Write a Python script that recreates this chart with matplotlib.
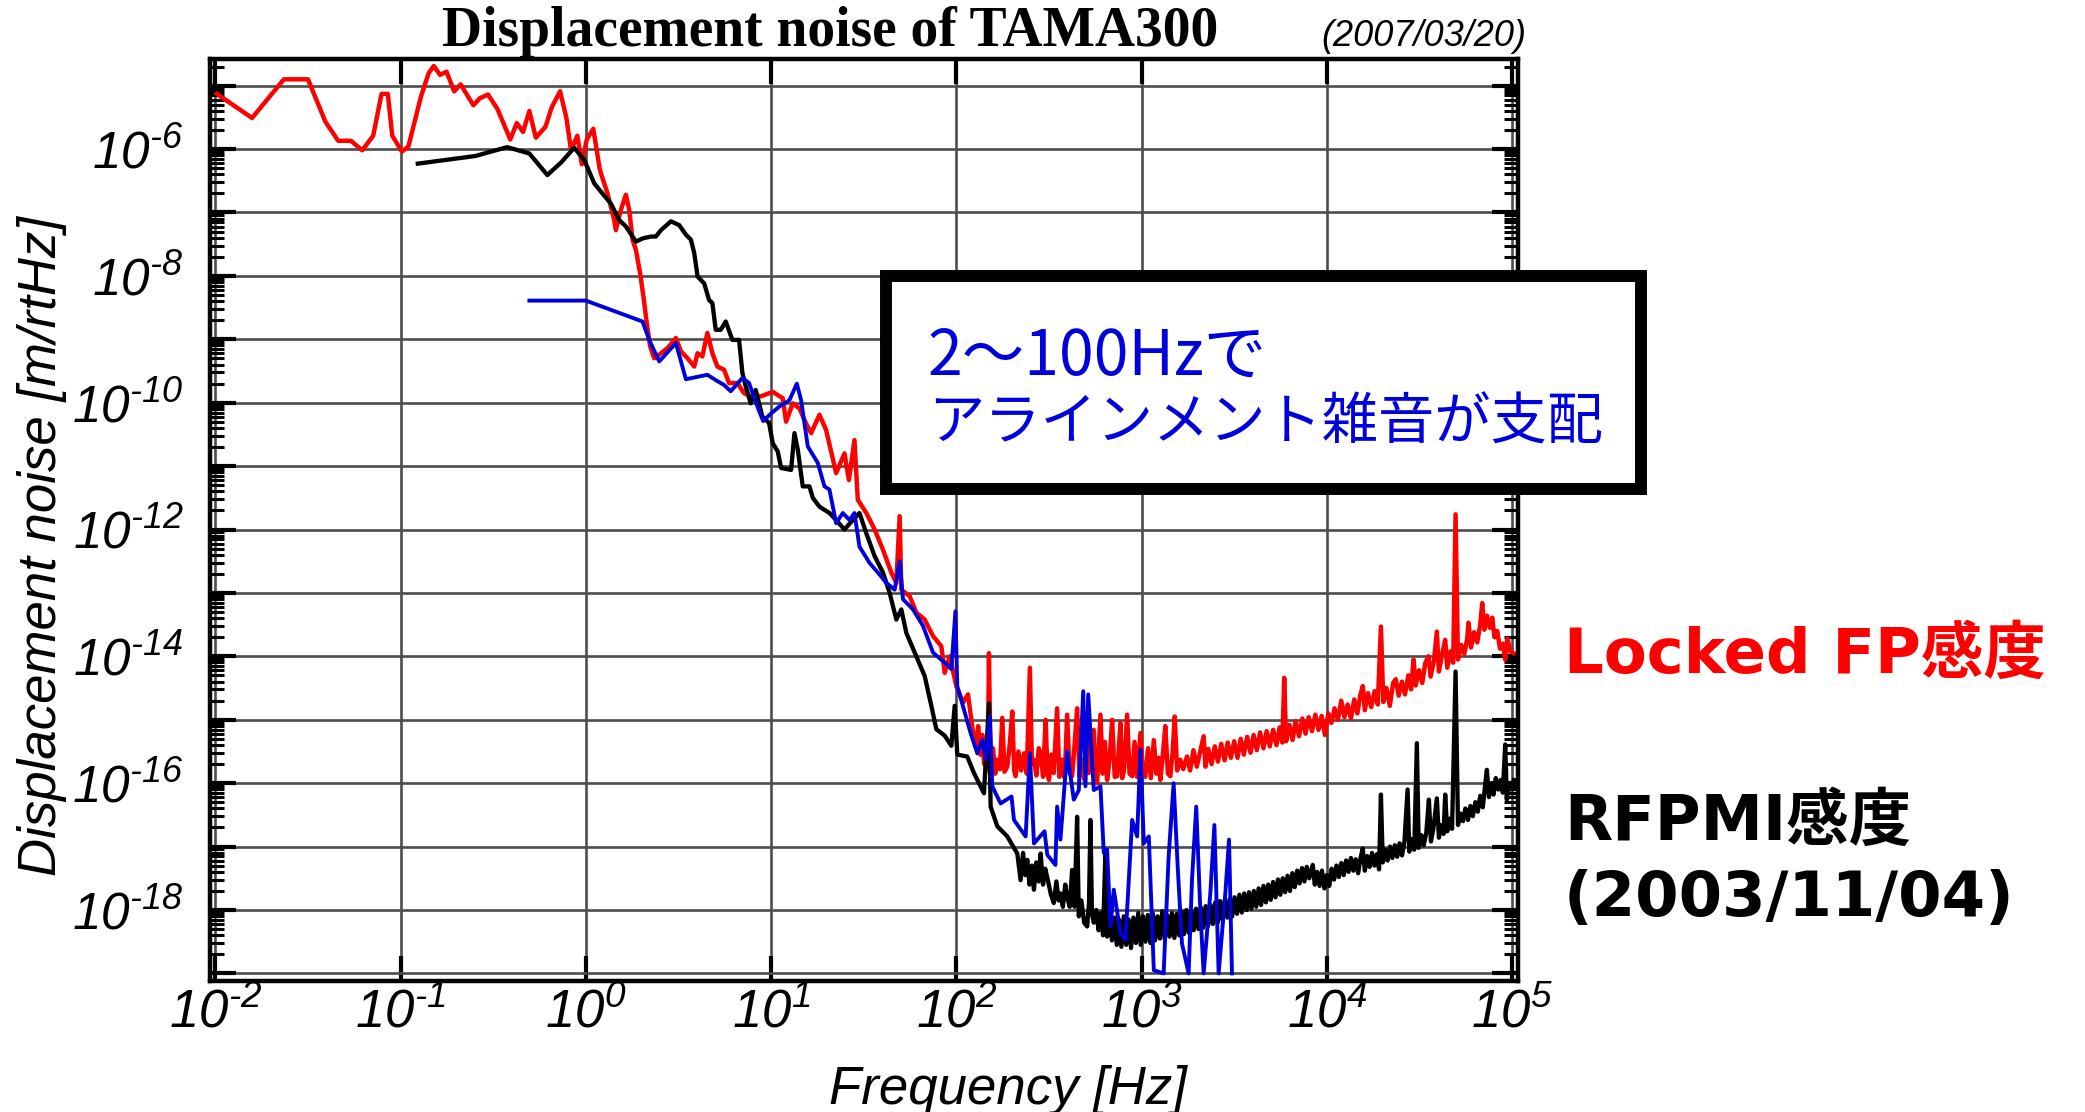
import numpy as np
import matplotlib
matplotlib.use('Agg')
import matplotlib.pyplot as plt
from matplotlib.ticker import FixedLocator, NullLocator, FuncFormatter
from matplotlib.patches import Rectangle

# points as (log10 f [Hz], log10 noise [m/rtHz])
red_pts = [
    (-1.992, -5.13), (-1.802, -5.51), (-1.63, -4.90), (-1.50, -4.90), (-1.406, -5.57),
    (-1.337, -5.87), (-1.268, -5.87), (-1.207, -6.02), (-1.148, -5.79), (-1.103, -5.13),
    (-1.069, -5.13), (-1.045, -5.79), (-0.993, -6.04), (-0.958, -5.96), (-0.89, -5.17),
    (-0.848, -4.80), (-0.821, -4.69), (-0.787, -4.83), (-0.752, -4.78), (-0.711, -5.09),
    (-0.676, -4.98), (-0.607, -5.31), (-0.573, -5.20), (-0.528, -5.14), (-0.477, -5.37),
    (-0.408, -5.85), (-0.373, -5.59), (-0.339, -5.73), (-0.305, -5.40), (-0.27, -5.82),
    (-0.218, -5.65), (-0.184, -5.34), (-0.139, -5.09), (-0.105, -5.51), (-0.08, -6.02),
    (-0.046, -5.79), (-0.022, -6.24), (0.005, -5.85), (0.04, -5.68), (0.074, -6.30),
    (0.081, -6.38), (0.117, -6.70), (0.153, -7.12), (0.162, -7.28), (0.189, -6.96),
    (0.216, -6.72), (0.234, -6.96), (0.252, -7.43), (0.27, -7.59), (0.293, -7.96),
    (0.311, -8.33), (0.329, -8.75), (0.347, -9.11), (0.369, -9.30), (0.405, -9.22),
    (0.441, -9.14), (0.486, -8.98), (0.513, -9.19), (0.549, -9.30), (0.585, -9.43),
    (0.603, -9.22), (0.629, -9.27), (0.656, -8.90), (0.683, -9.22), (0.71, -9.43),
    (0.746, -9.48), (0.773, -9.69), (0.818, -9.69), (0.854, -9.85), (0.89, -9.90),
    (0.944, -9.90), (1.009, -9.83), (1.063, -9.93), (1.081, -10.30), (1.117, -10.01),
    (1.153, -10.09), (1.189, -10.33), (1.216, -10.48), (1.261, -10.19), (1.297, -10.43),
    (1.351, -11.11), (1.396, -10.80), (1.42, -11.22), (1.45, -10.59), (1.468, -11.53),
    (1.514, -11.74), (1.559, -12.00), (1.604, -12.32), (1.649, -12.68), (1.676, -12.84),
    (1.694, -11.79), (1.703, -12.95), (1.748, -13.05), (1.784, -13.31), (1.829, -13.42),
    (1.874, -13.68), (1.919, -13.84), (1.937, -14.26), (1.964, -14.00), (2.0, -14.47),
    (2.036, -14.73), (2.063, -14.60), (2.090, -15.20), (2.104, -15.42), (2.118, -15.10),
    (2.130, -15.55), (2.140, -15.24), (2.150, -15.70), (2.158, -15.63), (2.170, -15.80),
    (2.176, -13.95), (2.185, -15.74), (2.198, -15.45), (2.210, -15.85), (2.221, -15.63),
    (2.235, -15.78), (2.248, -14.97), (2.260, -15.82), (2.275, -15.74), (2.288, -15.40),
    (2.302, -14.87), (2.312, -15.80), (2.320, -15.89), (2.335, -15.50), (2.350, -15.80),
    (2.365, -15.53), (2.380, -15.85), (2.397, -14.18), (2.408, -15.70), (2.419, -15.63),
    (2.432, -15.88), (2.445, -15.45), (2.455, -15.53), (2.468, -15.90), (2.482, -15.00),
    (2.492, -15.85), (2.500, -15.95), (2.513, -15.55), (2.526, -15.84), (2.544, -14.82),
    (2.556, -15.90), (2.571, -15.63), (2.585, -15.92), (2.598, -14.92), (2.612, -15.85),
    (2.625, -15.89), (2.638, -15.40), (2.652, -14.82), (2.665, -15.90), (2.679, -15.63),
    (2.692, -15.95), (2.705, -15.20), (2.715, -15.84), (2.728, -15.50), (2.742, -15.16),
    (2.752, -15.95), (2.760, -16.00), (2.770, -15.40), (2.778, -14.92), (2.790, -15.85),
    (2.802, -15.35), (2.814, -15.95), (2.828, -15.60), (2.841, -15.00), (2.855, -15.90),
    (2.868, -15.89), (2.878, -15.40), (2.886, -15.05), (2.895, -15.92), (2.905, -15.80),
    (2.922, -14.92), (2.935, -15.85), (2.949, -15.89), (2.962, -15.35), (2.975, -15.90),
    (2.994, -15.21), (3.008, -15.88), (3.020, -15.90), (3.035, -15.45), (3.050, -15.92),
    (3.066, -15.32), (3.080, -15.85), (3.092, -15.60), (3.101, -15.95), (3.115, -15.55),
    (3.128, -15.10), (3.142, -15.85), (3.155, -15.89), (3.168, -15.50), (3.179, -14.95),
    (3.192, -15.80), (3.209, -15.63), (3.225, -15.78), (3.245, -15.58), (3.262, -15.80),
    (3.280, -15.48), (3.298, -15.74), (3.315, -15.52), (3.335, -15.26), (3.345, -15.74),
    (3.360, -15.46), (3.378, -15.70), (3.395, -15.42), (3.412, -15.66), (3.430, -15.38),
    (3.448, -15.64), (3.465, -15.36), (3.482, -15.60), (3.500, -15.34), (3.518, -15.60),
    (3.535, -15.30), (3.552, -15.55), (3.570, -15.27), (3.588, -15.52), (3.605, -15.24),
    (3.622, -15.48), (3.640, -15.20), (3.658, -15.45), (3.675, -15.18), (3.692, -15.42),
    (3.710, -15.16), (3.728, -15.40), (3.745, -15.12), (3.760, -15.36), (3.770, -14.34),
    (3.780, -15.34), (3.798, -15.08), (3.815, -15.32), (3.832, -15.02), (3.850, -15.26),
    (3.868, -14.98), (3.885, -15.22), (3.902, -14.96), (3.920, -15.18), (3.938, -14.92),
    (3.955, -15.16), (3.972, -14.94), (3.990, -15.24), (4.008, -14.90), (4.025, -15.05),
    (4.042, -14.82), (4.060, -15.00), (4.078, -14.70), (4.095, -14.96), (4.112, -14.76),
    (4.130, -14.98), (4.148, -14.68), (4.165, -14.90), (4.180, -14.62), (4.194, -14.47),
    (4.205, -14.85), (4.222, -14.58), (4.240, -14.80), (4.258, -14.55), (4.275, -14.76),
    (4.292, -13.53), (4.305, -14.72), (4.322, -14.50), (4.340, -14.78), (4.358, -14.42),
    (4.372, -14.36), (4.388, -14.62), (4.405, -14.40), (4.422, -14.60), (4.440, -14.30),
    (4.455, -14.52), (4.468, -14.05), (4.480, -14.46), (4.498, -14.22), (4.515, -14.42),
    (4.532, -14.10), (4.549, -14.00), (4.560, -14.32), (4.578, -14.08), (4.594, -13.61),
    (4.605, -14.24), (4.622, -13.98), (4.639, -13.74), (4.650, -14.18), (4.668, -13.92),
    (4.682, -14.10), (4.695, -11.76), (4.708, -14.05), (4.725, -13.82), (4.742, -13.96),
    (4.758, -13.72), (4.765, -13.47), (4.778, -13.86), (4.795, -13.62), (4.812, -13.78),
    (4.828, -13.50), (4.839, -13.16), (4.850, -13.58), (4.865, -13.36), (4.880, -13.55),
    (4.893, -13.39), (4.905, -13.70), (4.920, -13.60), (4.935, -13.88), (4.950, -13.80),
    (4.963, -14.05), (4.975, -13.72), (4.990, -13.92), (5.008, -13.95),
]

black_pts = [
    (-0.907, -6.23), (-0.752, -6.17), (-0.597, -6.11), (-0.425, -5.97), (-0.305, -6.07),
    (-0.208, -6.41), (-0.133, -6.21), (-0.063, -5.98), (-0.009, -6.17), (0.045, -6.54),
    (0.081, -6.67), (0.135, -6.86), (0.18, -7.12), (0.216, -7.22), (0.27, -7.46),
    (0.306, -7.41), (0.351, -7.38), (0.378, -7.38), (0.405, -7.28), (0.459, -7.14),
    (0.504, -7.20), (0.54, -7.35), (0.567, -7.43), (0.585, -7.64), (0.603, -8.01),
    (0.639, -8.12), (0.665, -8.38), (0.683, -8.43), (0.701, -8.85), (0.728, -8.85),
    (0.755, -8.72), (0.791, -9.01), (0.827, -9.01), (0.845, -9.53), (0.863, -9.74),
    (0.89, -10.01), (0.917, -9.80), (0.953, -10.22), (0.989, -10.32), (1.009, -10.64),
    (1.036, -10.77), (1.054, -11.03), (1.108, -11.06), (1.126, -10.48), (1.144, -10.74),
    (1.171, -11.32), (1.207, -11.32), (1.225, -11.50), (1.261, -11.64), (1.315, -11.74),
    (1.351, -11.85), (1.396, -12.00), (1.441, -11.85), (1.477, -11.74), (1.514, -12.06),
    (1.559, -12.42), (1.604, -12.68), (1.64, -13.00), (1.676, -13.42), (1.703, -13.26),
    (1.73, -13.63), (1.784, -14.00), (1.829, -14.31), (1.865, -14.78), (1.892, -15.15),
    (1.937, -15.25), (1.973, -15.41), (1.991, -14.78), (2.005, -15.55), (2.059, -15.58),
    (2.095, -15.84), (2.149, -16.16), (2.176, -14.74), (2.185, -16.37), (2.221, -16.68),
    (2.275, -16.84), (2.329, -17.11), (2.347, -17.53), (2.360, -17.10), (2.372, -17.45),
    (2.383, -17.21), (2.395, -17.60), (2.408, -17.30), (2.419, -17.68), (2.432, -17.25),
    (2.445, -17.55), (2.455, -17.11), (2.468, -17.60), (2.480, -17.35), (2.494, -17.53),
    (2.510, -17.75), (2.526, -17.89), (2.540, -17.55), (2.552, -17.85), (2.562, -17.74),
    (2.575, -17.95), (2.588, -17.60), (2.598, -17.79), (2.612, -17.95), (2.625, -17.37),
    (2.638, -17.95), (2.652, -16.53), (2.661, -18.10), (2.675, -17.85), (2.690, -18.20),
    (2.706, -18.26), (2.716, -17.90), (2.724, -16.58), (2.732, -18.05), (2.742, -18.20),
    (2.755, -18.00), (2.768, -18.32), (2.780, -18.05), (2.792, -18.40), (2.805, -17.05),
    (2.814, -18.42), (2.828, -18.10), (2.840, -18.48), (2.853, -18.12), (2.866, -18.55),
    (2.878, -18.15), (2.891, -18.58), (2.904, -18.10), (2.917, -18.55), (2.930, -18.15),
    (2.943, -18.60), (2.956, -18.12), (2.969, -18.52), (2.982, -18.05), (2.995, -18.55),
    (3.008, -18.10), (3.021, -18.50), (3.034, -18.08), (3.047, -18.52), (3.060, -18.05),
    (3.073, -18.48), (3.086, -18.10), (3.099, -18.45), (3.112, -18.02), (3.125, -18.46),
    (3.138, -18.08), (3.151, -18.42), (3.164, -18.05), (3.177, -18.44), (3.190, -18.06),
    (3.203, -18.40), (3.216, -18.02), (3.229, -18.38), (3.242, -18.00), (3.255, -18.36),
    (3.268, -18.02), (3.281, -18.32), (3.294, -17.98), (3.307, -18.30), (3.320, -17.96),
    (3.333, -18.28), (3.346, -17.94), (3.359, -18.25), (3.372, -17.92), (3.385, -18.22),
    (3.398, -17.88), (3.411, -18.20), (3.424, -17.86), (3.437, -18.16), (3.450, -17.84),
    (3.463, -18.12), (3.476, -17.82), (3.489, -18.10), (3.502, -17.80), (3.515, -18.06),
    (3.528, -17.76), (3.541, -18.04), (3.554, -17.74), (3.567, -18.00), (3.580, -17.72),
    (3.593, -17.98), (3.606, -17.70), (3.619, -17.95), (3.632, -17.66), (3.645, -17.92),
    (3.658, -17.62), (3.671, -17.88), (3.684, -17.60), (3.697, -17.84), (3.710, -17.56),
    (3.723, -17.80), (3.736, -17.52), (3.749, -17.76), (3.762, -17.50), (3.775, -17.72),
    (3.788, -17.46), (3.801, -17.70), (3.814, -17.42), (3.827, -17.64), (3.840, -17.38),
    (3.853, -17.58), (3.866, -17.34), (3.879, -17.55), (3.892, -17.32), (3.905, -17.50),
    (3.924, -17.29), (3.935, -17.60), (3.948, -17.40), (3.961, -17.62), (3.974, -17.38),
    (3.987, -17.66), (4.000, -17.45), (4.013, -17.62), (4.026, -17.35), (4.039, -17.52),
    (4.052, -17.30), (4.065, -17.48), (4.078, -17.26), (4.091, -17.45), (4.104, -17.22),
    (4.117, -17.40), (4.130, -17.18), (4.143, -17.38), (4.156, -17.20), (4.169, -17.42),
    (4.182, -17.18), (4.194, -17.03), (4.205, -17.38), (4.218, -17.15), (4.231, -17.32),
    (4.244, -17.10), (4.257, -17.30), (4.270, -17.12), (4.282, -17.36), (4.292, -16.18),
    (4.302, -17.25), (4.315, -17.05), (4.328, -17.22), (4.341, -17.00), (4.354, -17.18),
    (4.367, -16.98), (4.380, -17.16), (4.393, -16.95), (4.406, -17.14), (4.419, -16.92),
    (4.436, -16.10), (4.445, -17.08), (4.458, -16.88), (4.472, -17.05), (4.486, -15.37),
    (4.496, -17.02), (4.510, -16.82), (4.523, -16.98), (4.537, -16.78), (4.551, -16.26),
    (4.562, -16.92), (4.575, -16.72), (4.594, -16.24), (4.605, -16.86), (4.618, -16.66),
    (4.630, -16.80), (4.639, -16.18), (4.650, -16.76), (4.663, -16.56), (4.676, -16.72),
    (4.695, -14.24), (4.708, -16.66), (4.722, -16.48), (4.735, -16.60), (4.748, -16.40),
    (4.762, -16.58), (4.775, -16.36), (4.788, -16.52), (4.802, -16.30), (4.815, -16.45),
    (4.828, -16.20), (4.842, -16.38), (4.852, -16.10), (4.864, -15.79), (4.875, -16.22),
    (4.888, -16.00), (4.900, -16.18), (4.912, -15.92), (4.925, -16.10), (4.938, -15.95),
    (4.950, -16.15), (4.963, -15.39), (4.972, -16.26), (4.985, -16.00), (5.000, -16.10),
    (5.010, -15.95),
]

blue_pts = [
    (-0.305, -8.39), (0.0, -8.39), (0.306, -8.72), (0.342, -9.01), (0.396, -9.35),
    (0.486, -9.06), (0.54, -9.63), (0.656, -9.56), (0.71, -9.66), (0.746, -9.72),
    (0.782, -9.82), (0.845, -9.61), (0.881, -9.69), (0.926, -10.06), (0.957, -10.29),
    (1.0, -10.17), (1.045, -10.06), (1.099, -9.96), (1.139, -9.70), (1.162, -9.96),
    (1.198, -10.69), (1.252, -10.95), (1.288, -11.32), (1.315, -11.37), (1.351, -11.90),
    (1.387, -11.74), (1.423, -11.85), (1.45, -11.74), (1.477, -12.27), (1.532, -12.53),
    (1.577, -12.68), (1.622, -12.84), (1.667, -12.95), (1.694, -12.50), (1.712, -13.10),
    (1.766, -13.26), (1.82, -13.52), (1.874, -13.94), (1.937, -14.10), (1.973, -14.20),
    (1.995, -13.29), (2.005, -14.47), (2.041, -14.84), (2.077, -15.21), (2.113, -15.53),
    (2.14, -15.32), (2.158, -15.63), (2.181, -14.95), (2.194, -16.05), (2.239, -16.32),
    (2.298, -16.21), (2.311, -16.58), (2.374, -16.84), (2.397, -15.53), (2.419, -16.95),
    (2.476, -16.76), (2.491, -17.13), (2.535, -17.29), (2.544, -16.37), (2.562, -16.89),
    (2.598, -15.50), (2.634, -16.26), (2.661, -16.11), (2.685, -14.55), (2.697, -16.05),
    (2.712, -14.60), (2.742, -16.11), (2.778, -16.05), (2.796, -17.10), (2.814, -17.05),
    (2.832, -18.26), (2.85, -17.68), (2.886, -18.37), (2.913, -18.47), (2.949, -16.58),
    (2.976, -16.84), (2.994, -15.47), (3.012, -16.95), (3.039, -16.84), (3.066, -18.95),
    (3.119, -19.00), (3.146, -17.16), (3.173, -16.00), (3.195, -17.32), (3.218, -18.53),
    (3.254, -19.00), (3.272, -17.53), (3.295, -16.37), (3.317, -18.00), (3.335, -19.00),
    (3.371, -17.74), (3.393, -16.66), (3.416, -19.00), (3.452, -17.74), (3.472, -16.89),
    (3.488, -19.00),
]

x_decades = list(range(-2, 6))
y_decades = list(range(-19, -4))

title = 'Displacement noise of TAMA300'
date = '(2007/03/20)'
note = ['2〜100Hzで', 'アラインメント雑音が支配']
label_fp = 'Locked FP感度'
label_rfpmi = ['RFPMI感度', '(2003/11/04)']


def setup_fonts():
    plt.rcParams['font.family'] = ['Liberation Sans', 'Noto Sans CJK JP']
    plt.rcParams['mathtext.fontset'] = 'custom'
    plt.rcParams['mathtext.rm'] = 'Liberation Sans:italic'
    plt.rcParams['mathtext.it'] = 'Liberation Sans:italic'
    plt.rcParams['mathtext.default'] = 'rm'


def pow_label(e):
    # the original labels use a short hyphen, not a math minus
    if e < 0:
        return r'$10^{\text{-}%d}$' % (-e)
    return r'$10^{%d}$' % e


def ytick_fmt(v, pos):
    e = int(round(np.log10(v)))
    if e % 2:
        return ''
    return pow_label(e)


def xtick_fmt(v, pos):
    return pow_label(int(round(np.log10(v))))


def to_xy(pts):
    a = np.array(pts)
    return 10**a[:, 0], 10**a[:, 1]


def main():
    setup_fonts()
    W, H = 2085, 1112
    fig = plt.figure(figsize=(W/100, H/100), dpi=100)
    ax = fig.add_axes([210/W, 1-981/H, 1308/W, 922/H])

    ax.loglog(*to_xy(red_pts), color='#ff0000', lw=3.2, zorder=3)
    ax.loglog(*to_xy(black_pts), color='black', lw=3.1, zorder=4)
    ax.loglog(*to_xy(blue_pts), color='#0000dd', lw=2.8, zorder=5)

    ax.set_xlim(10**-2.029, 10**5.032)
    ax.set_ylim(10**-19.12, 10**-4.58)

    ax.xaxis.set_major_locator(FixedLocator([10.0**k for k in x_decades]))
    ax.xaxis.set_minor_locator(NullLocator())
    ax.xaxis.set_major_formatter(FuncFormatter(xtick_fmt))
    ax.yaxis.set_major_locator(FixedLocator([10.0**k for k in y_decades]))
    ax.yaxis.set_minor_locator(FixedLocator([m*10.0**k for k in y_decades for m in range(2, 10)]))
    ax.yaxis.set_major_formatter(FuncFormatter(ytick_fmt))

    ax.set_axisbelow(True)
    ax.grid(True, which='major', color='#4d4d4d', lw=1.9)
    ax.tick_params(which='both', direction='in', top=True, right=True, color='black')
    ax.tick_params(axis='y', which='major', length=19, width=3, labelsize=37, pad=19)
    ax.tick_params(axis='y', which='minor', length=10, width=2.2)
    ax.tick_params(axis='x', which='major', length=18, width=3, labelsize=38, pad=5)
    for sp in ax.spines.values():
        sp.set_linewidth(3.2)
        sp.set_zorder(6)

    fig.text(830/W, 1-46/H, title, family='Liberation Serif', weight='bold',
             fontsize=40, ha='center', va='baseline')
    fig.text(1526/W, 1-46/H, date, style='italic', fontsize=26, ha='right', va='baseline')
    fig.text(1008/W, 1-1104/H, 'Frequency [Hz]', style='italic', fontsize=38,
             ha='center', va='baseline')
    fig.text(42/W, 1-546/H, 'Displacement noise [m/rtHz]', style='italic', fontsize=38,
             rotation=90, ha='center', va='center')

    # annotation box over the plot
    box = Rectangle((886/W, 1-489/H), 755/W, 213/H, transform=fig.transFigure,
                    facecolor='white', edgecolor='black', lw=8.6, zorder=10)
    fig.patches.append(box)
    fig.text(928/W, 1-375/H, note[0], family=['Noto Sans CJK JP'], fontsize=45,
             color='#0000dd', ha='left', va='baseline', zorder=11)
    fig.text(928/W, 1-440/H, note[1], family=['Noto Sans CJK JP'], fontsize=40.5,
             color='#0000dd', ha='left', va='baseline', zorder=11)

    lab_font = ['DejaVu Sans', 'Noto Sans CJK JP']
    fig.text(1564/W, 1-673/H, label_fp, family=lab_font, weight='bold', fontsize=45,
             color='#ff0000', ha='left', va='baseline')
    fig.text(1564/W, 1-840/H, label_rfpmi[0], family=lab_font, weight='bold', fontsize=45,
             color='black', ha='left', va='baseline')
    fig.text(1564/W, 1-916/H, label_rfpmi[1], family=lab_font, weight='bold', fontsize=45,
             color='black', ha='left', va='baseline')

    fig.savefig('out.png', dpi=100)
    plt.close(fig)


if __name__ == '__main__':
    main()
